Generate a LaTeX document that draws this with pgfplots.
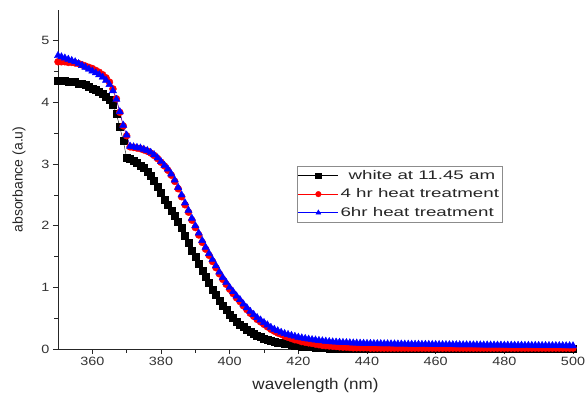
\documentclass[border=0pt]{standalone}
\usepackage{pgfplots}
\usepackage{pgfplotstable}
\pgfplotsset{compat=1.18}
\usepackage{fontspec}
\setmainfont{Liberation Sans}
\newfontfamily\tickf{Liberation Sans}[FakeStretch=1.2]
\newfontfamily\legf{Liberation Sans}[FakeStretch=1.5]
\newfontfamily\xlf{Liberation Sans}[FakeStretch=1.1]

\pgfplotstableread{
wl white hfour hsix
350 4.35 4.66 4.76
351 4.35 4.66 4.74
352 4.35 4.66 4.72
353 4.34 4.65 4.70
354 4.34 4.65 4.68
355 4.33 4.64 4.66
356 4.31 4.63 4.63
357 4.30 4.61 4.60
358 4.28 4.59 4.57
359 4.26 4.57 4.54
360 4.23 4.55 4.51
361 4.20 4.52 4.48
362 4.17 4.49 4.45
363 4.14 4.45 4.41
364 4.10 4.40 4.36
365 4.05 4.33 4.29
366 3.97 4.22 4.19
367 3.82 4.06 4.05
368 3.60 3.84 3.85
369 3.38 3.62 3.63
370 3.10 3.46 3.47
371 3.08 3.28 3.29
372 3.05 3.27 3.28
373 3.02 3.26 3.27
374 2.98 3.25 3.26
375 2.94 3.23 3.24
376 2.88 3.21 3.22
377 2.81 3.18 3.19
378 2.73 3.14 3.15
379 2.63 3.09 3.10
380 2.53 3.03 3.04
381 2.43 2.97 2.98
382 2.34 2.90 2.92
383 2.25 2.82 2.84
384 2.16 2.72 2.74
385 2.07 2.60 2.62
386 1.96 2.47 2.50
387 1.84 2.34 2.37
388 1.72 2.22 2.25
389 1.60 2.09 2.12
390 1.49 1.97 2.00
391 1.38 1.85 1.88
392 1.27 1.73 1.76
393 1.17 1.62 1.65
394 1.07 1.52 1.55
395 0.97 1.42 1.45
396 0.88 1.32 1.35
397 0.79 1.22 1.25
398 0.71 1.13 1.16
399 0.63 1.05 1.08
400 0.56 0.97 1.00
401 0.50 0.90 0.93
402 0.45 0.83 0.86
403 0.40 0.77 0.80
404 0.36 0.70 0.73
405 0.32 0.64 0.67
406 0.28 0.58 0.61
407 0.25 0.53 0.56
408 0.22 0.48 0.51
409 0.20 0.44 0.47
410 0.17 0.40 0.43
411 0.15 0.36 0.39
412 0.14 0.32 0.35
413 0.12 0.29 0.32
414 0.11 0.26 0.295
415 0.10 0.24 0.27
416 0.09 0.21 0.25
417 0.08 0.19 0.235
418 0.07 0.17 0.22
419 0.06 0.15 0.205
420 0.05 0.14 0.19
421 0.045 0.12 0.18
422 0.04 0.11 0.17
423 0.035 0.10 0.16
424 0.03 0.09 0.152
425 0.025 0.08 0.145
426 0.02 0.07 0.138
427 0.018 0.06 0.132
428 0.015 0.055 0.126
429 0.012 0.05 0.12
430 0.01 0.045 0.115
431 0.01 0.04 0.112
432 0.01 0.035 0.109
433 0.01 0.03 0.106
434 0.01 0.03 0.103
435 0.01 0.025 0.10
436 0.01 0.02 0.098
437 0.01 0.02 0.096
438 0.01 0.02 0.094
439 0.01 0.02 0.092
440 0.01 0.02 0.09
441 0.01 0.015 0.089
442 0.01 0.015 0.088
443 0.01 0.015 0.087
444 0.01 0.015 0.086
445 0.01 0.015 0.085
446 0.01 0.015 0.084
447 0.01 0.015 0.083
448 0.01 0.015 0.082
449 0.01 0.015 0.081
450 0.01 0.015 0.080
451 0.01 0.015 0.079
452 0.01 0.015 0.078
453 0.01 0.015 0.077
454 0.01 0.015 0.076
455 0.01 0.015 0.076
456 0.01 0.015 0.075
457 0.01 0.015 0.075
458 0.01 0.015 0.074
459 0.01 0.015 0.073
460 0.01 0.015 0.072
461 0.01 0.015 0.072
462 0.01 0.015 0.071
463 0.01 0.015 0.071
464 0.01 0.015 0.070
465 0.01 0.015 0.070
466 0.01 0.015 0.069
467 0.01 0.015 0.069
468 0.01 0.015 0.068
469 0.01 0.015 0.068
470 0.01 0.015 0.067
471 0.01 0.015 0.067
472 0.01 0.015 0.066
473 0.01 0.015 0.066
474 0.01 0.015 0.065
475 0.01 0.015 0.065
476 0.01 0.015 0.064
477 0.01 0.015 0.064
478 0.01 0.015 0.063
479 0.01 0.015 0.063
480 0.01 0.015 0.062
481 0.01 0.015 0.062
482 0.01 0.015 0.061
483 0.01 0.015 0.061
484 0.01 0.015 0.060
485 0.01 0.015 0.060
486 0.01 0.015 0.059
487 0.01 0.015 0.059
488 0.01 0.015 0.058
489 0.01 0.015 0.058
490 0.01 0.015 0.057
491 0.01 0.015 0.057
492 0.01 0.015 0.056
493 0.01 0.015 0.056
494 0.01 0.015 0.055
495 0.01 0.015 0.055
496 0.01 0.015 0.054
497 0.01 0.015 0.054
498 0.01 0.015 0.053
499 0.01 0.015 0.053
500 0.01 0.015 0.052
}\datatable

\begin{document}
\begin{tikzpicture}
\begin{axis}[
  name=ax,
  scale only axis,
  width=515pt, height=339pt,
  xmin=350, xmax=500, ymin=0, ymax=5.5,
  axis lines=left,
  axis line style={-, black!85, line width=0.8pt},
  xtick={360,380,...,500},
  ytick={0,1,...,5},
  minor x tick num=1,
  minor y tick num=1,
  tick align=outside,
  major tick length=5pt,
  minor tick length=3.5pt,
  tick style={black!85, line width=0.8pt},
  /pgf/number format/assume math mode=true,
  ticklabel style={font=\tickf\fontsize{12}{14}\selectfont, text=black!80},
  xlabel={\xlf wavelength (nm)},
  ylabel={absorbance (a.u)},
  xlabel style={font=\fontsize{15.5}{17}\selectfont, text=black!85, yshift=-5pt},
  ylabel style={font=\fontsize{14}{16}\selectfont, text=black!85, yshift=9pt},
  legend style={at={(0.464,0.541)}, anchor=north west, draw=black!45,
    font=\legf\fontsize{12.5}{14}\selectfont, text=black!85,
    inner xsep=1pt, inner ysep=3pt, row sep=5pt,
    nodes={inner ysep=1.5pt}},
  legend cell align=left,
  legend image code/.code={
    \draw[mark repeat=2,mark phase=2,mark size=2.8pt]
      plot coordinates {(0pt,0pt) (20pt,0pt) (40pt,0pt)};},
]
\addplot[black, thin, mark=square*, mark size=3.5pt, mark options={solid, fill=black}]
  table[x=wl, y=white] {\datatable};
\addlegendentry{\hspace{8pt}white at 11.45 am}
\addplot[red, thin, mark=*, mark size=3.5pt, mark options={solid, fill=red}]
  table[x=wl, y=hfour] {\datatable};
\addlegendentry{4 hr heat treatment}
\addplot[blue, thin, mark=triangle*, mark size=4.2pt, mark options={solid, fill=blue}]
  table[x=wl, y=hsix] {\datatable};
\addlegendentry{6hr heat treatment}
\end{axis}
\pgfresetboundingbox
\path ([xshift=-58pt,yshift=-51pt]ax.south west) rectangle ([xshift=12pt,yshift=10pt]ax.north east);
\end{tikzpicture}
\end{document}
